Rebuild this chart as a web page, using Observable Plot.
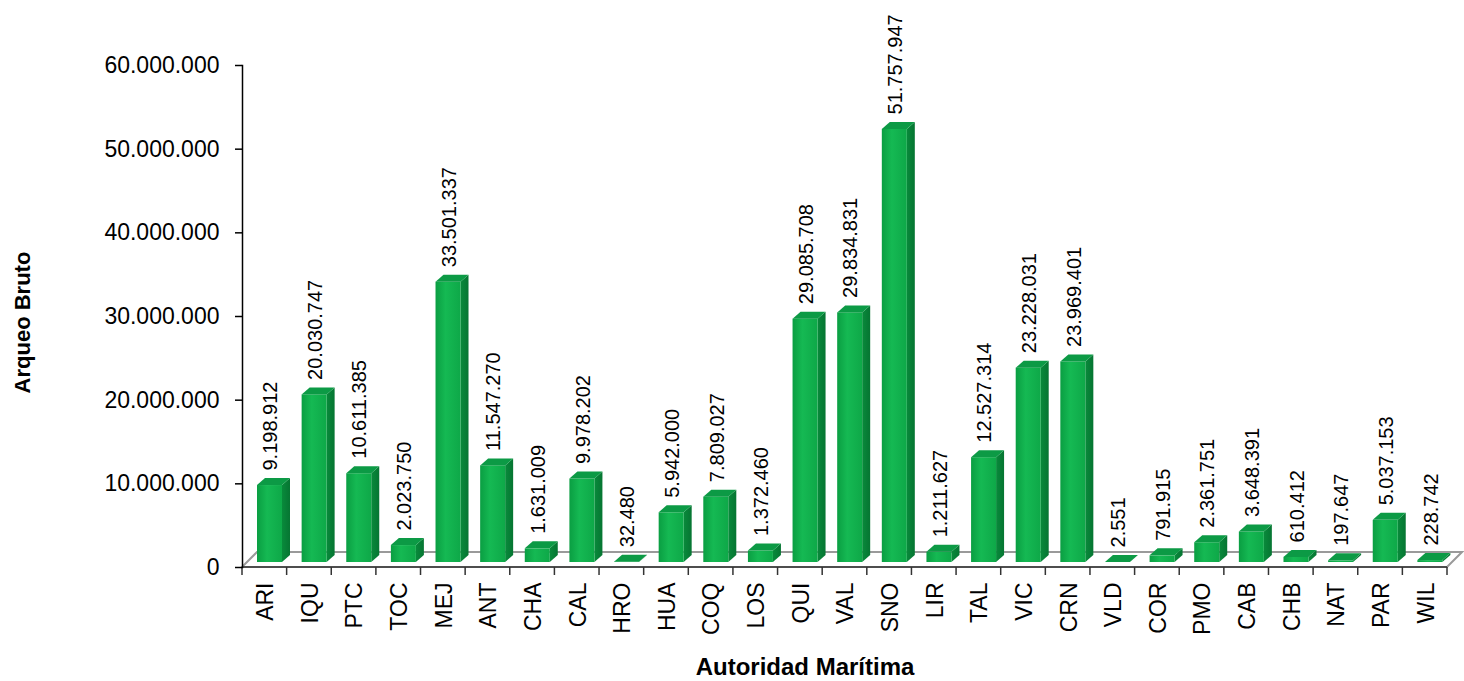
<!DOCTYPE html>
<html><head><meta charset="utf-8">
<script src="https://cdn.jsdelivr.net/npm/d3@7"></script>
<script src="https://cdn.jsdelivr.net/npm/@observablehq/plot@0.6"></script>
<style>body{margin:0;background:#fff}</style>
</head><body><div id="chart"></div>
<script>
const categories = ["ARI","IQU","PTC","TOC","MEJ","ANT","CHA","CAL","HRO","HUA","COQ","LOS","QUI","VAL","SNO","LIR","TAL","VIC","CRN","VLD","COR","PMO","CAB","CHB","NAT","PAR","WIL"];
const values = [9198912,20030747,10611385,2023750,33501337,11547270,1631009,9978202,32480,5942000,7809027,1372460,29085708,29834831,51757947,1211627,12527314,23228031,23969401,2551,791915,2361751,3648391,610412,197647,5037153,228742];
const yTicks = [0,10000000,20000000,30000000,40000000,50000000,60000000];
const xTitle = "Autoridad Marítima";
const yTitle = "Arqueo Bruto";

const data = categories.map((c, i) => ({cat: c, v: values[i]}));
const fmt = d3.formatLocale({decimal: ",", thousands: ".", grouping: [3], currency: ["", ""]}).format(",d");
const NS = "http://www.w3.org/2000/svg";
function el(tag, attrs) {
  const e = document.createElementNS(NS, tag);
  for (const k in attrs) e.setAttribute(k, attrs[k]);
  return e;
}

// x is a point scale with padding 0.5: points sit at the band centres
function bandInfo(scales) {
  const step = scales.x(categories[1]) - scales.x(categories[0]);
  return {step, start: c => scales.x(c) - step / 2};
}

function floorMark(index, scales) {
  const g = el("g", {});
  const {step, start} = bandInfo(scales);
  const x0 = start(categories[0]);
  const x1 = x0 + step * categories.length;
  const y0 = scales.y(0);
  const d = 15;
  g.appendChild(el("polygon", {points: `${x0},${y0} ${x1},${y0} ${x1 + d},${y0 - d} ${x0 + d},${y0 - d}`, fill: "#fff", stroke: "#9a9a9a", "stroke-width": 2}));
  g.appendChild(el("line", {x1: x0, y1: y0, x2: x1, y2: y0, stroke: "#333", "stroke-width": 1.5}));
  for (let i = 0; i <= categories.length; i++) {
    const x = x0 + i * step;
    g.appendChild(el("line", {x1: x, y1: y0, x2: x, y2: y0 + 8, stroke: "#333", "stroke-width": 1.5}));
  }
  return g;
}

function barsMark(index, scales) {
  const g = el("g", {});
  const defs = el("defs", {});
  const lg = el("linearGradient", {id: "frontGrad", x1: "0", y1: "0", x2: "1", y2: "0"});
  [["0", "#0a9e42"], ["0.4", "#15b953"], ["1", "#0ea848"]].forEach(([o, c]) => lg.appendChild(el("stop", {offset: o, "stop-color": c})));
  defs.appendChild(lg);
  const sg = el("linearGradient", {id: "sideGrad", x1: "0", y1: "0", x2: "1", y2: "0"});
  [["0", "#098a3b"], ["1", "#067532"]].forEach(([o, c]) => sg.appendChild(el("stop", {offset: o, "stop-color": c})));
  defs.appendChild(sg);
  g.appendChild(defs);
  const {start} = bandInfo(scales);
  const base = scales.y(0) - 5;
  const dx = 8, dy = 7, off = 15, w = 25;
  data.forEach(dd => {
    const L = start(dd.cat) + off, R = L + w;
    const T = scales.y(dd.v) - 5;
    g.appendChild(el("polygon", {points: `${R},${T} ${R + dx},${T - dy} ${R + dx},${base - dy} ${R},${base}`, fill: "url(#sideGrad)"}));
    g.appendChild(el("rect", {x: L, y: T, width: w, height: Math.max(0, base - T), fill: "url(#frontGrad)"}));
    g.appendChild(el("polygon", {points: `${L},${T} ${R},${T} ${R + dx},${T - dy} ${L + dx},${T - dy}`, fill: "#0c9a45"}));
  });
  return g;
}

const chart = Plot.plot({
  width: 1464,
  height: 681,
  marginLeft: 242,
  marginRight: 17,
  marginTop: 65,
  marginBottom: 114,
  style: {fontFamily: "'Liberation Sans', Arial, sans-serif", background: "#fff", color: "#000"},
  x: {type: "point", domain: categories, padding: 0.5, round: false, axis: null},
  y: {domain: [0, 60000000]},
  marks: [
    floorMark,
    barsMark,
    Plot.axisY(yTicks, {tickFormat: fmt, tickSize: 7, tickPadding: 16, fontSize: 23, label: null, stroke: "#000", strokeWidth: 1.5}),
    Plot.frame({anchor: "left", stroke: "#000", strokeWidth: 1.5}),
    Plot.text(data, {x: "cat", y: "v", text: d => fmt(d.v), rotate: -90, textAnchor: "start", lineAnchor: "middle", dx: 6, dy: -20, fontSize: 20, fill: "#000"}),
    Plot.text(categories, {x: d => d, frameAnchor: "bottom", text: d => d, rotate: -90, textAnchor: "end", lineAnchor: "middle", dx: 1, dy: 15, fontSize: 23, fill: "#000"}),
    Plot.text([xTitle], {frameAnchor: "bottom", text: d => d, textAnchor: "middle", lineAnchor: "middle", dx: -40, dy: 100, fontSize: 24, fontWeight: "bold", fill: "#000"}),
    Plot.text([yTitle], {frameAnchor: "left", text: d => d, rotate: -90, textAnchor: "middle", lineAnchor: "middle", dx: -220, dy: 6, fontSize: 22, fontWeight: "bold", fill: "#000"})
  ]
});
document.getElementById("chart").appendChild(chart);
</script>
</body></html>
